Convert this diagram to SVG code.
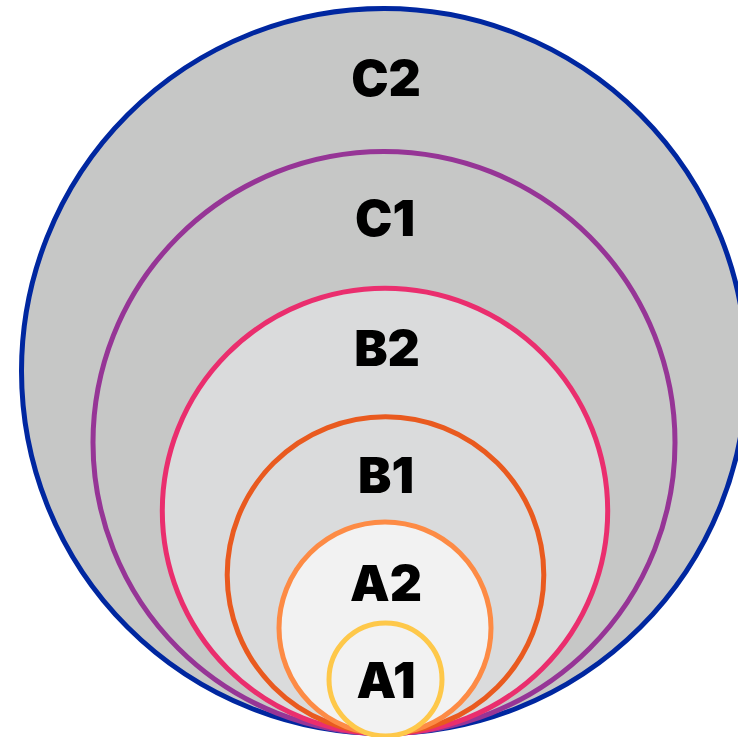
<svg xmlns="http://www.w3.org/2000/svg" width="738" height="737" viewBox="0 0 738 737">
<style>
.c{stroke-width:5}
.t{font-family:Inter,"Open Sans","DejaVu Sans",sans-serif;font-weight:900;font-size:50px;fill:#000;text-anchor:middle}
</style>
<rect width="738" height="737" fill="#fff"/>
<g id="C2"><circle class="c" cx="384" cy="371" r="362.5" fill="#c6c7c6" stroke="#0027a0"/><text class="t" x="386" y="96">C2</text></g>
<g id="C1"><circle class="c" cx="384" cy="442.5" r="291" fill="#c6c7c6" stroke="#963596"/><text class="t" x="385" y="236">C1</text></g>
<g id="B2"><circle class="c" cx="385" cy="511" r="222.7" fill="#dadbdc" stroke="#ea2e6e"/><text class="t" x="387" y="366">B2</text></g>
<g id="B1"><circle class="c" cx="385.5" cy="575" r="158.3" fill="#dadbdc" stroke="#e95a1f"/><text class="t" x="386" y="493">B1</text></g>
<g id="A2"><circle class="c" cx="385" cy="628" r="106" fill="#f2f2f2" stroke="#fd8b45"/><text class="t" x="386" y="601">A2</text></g>
<g id="A1"><circle class="c" cx="385.5" cy="679.5" r="56.5" fill="#f2f2f2" stroke="#fec84a"/><text class="t" x="386" y="698">A1</text></g>
<g id="connectors"/>
</svg>
